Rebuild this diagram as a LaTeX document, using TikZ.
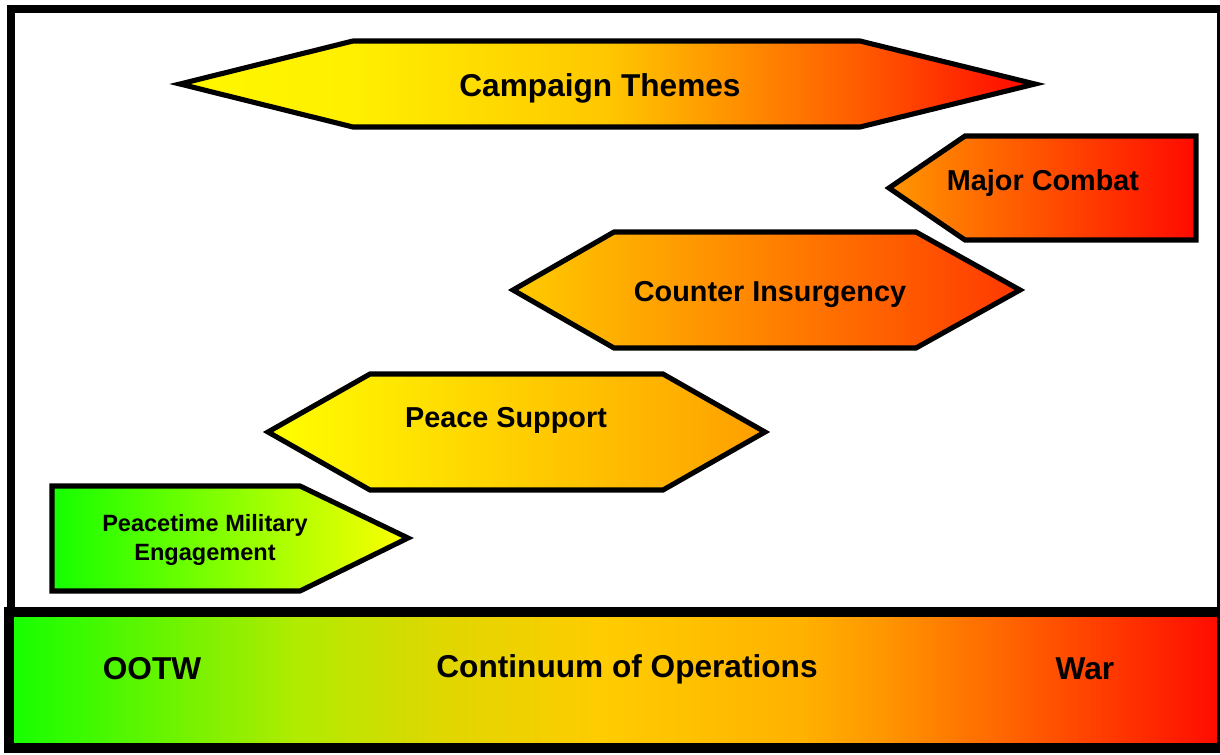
\documentclass[tikz,border=0pt]{standalone}
\usepackage{fontspec}
\setmainfont{Liberation Sans}
\usepackage{tikz}
\usetikzlibrary{positioning}

\pgfdeclarehorizontalshading{opsbar}{100bp}{rgb(0bp)=(0.08,1,0); rgb(25bp)=(0.08,1,0); rgb(37bp)=(0.7,0.92,0); rgb(43bp)=(0.88,0.84,0); rgb(49.5bp)=(1,0.8,0); rgb(57.5bp)=(1,0.7,0); rgb(61bp)=(1,0.59,0); rgb(66bp)=(1,0.4,0); rgb(75bp)=(1,0.04,0); rgb(100bp)=(1,0.04,0)}
\pgfdeclarehorizontalshading{themes}{100bp}{rgb(0bp)=(1,0.97,0); rgb(25bp)=(1,0.97,0); rgb(35bp)=(1,0.94,0); rgb(50bp)=(1,0.78,0); rgb(65bp)=(1,0.35,0); rgb(75bp)=(1,0.02,0); rgb(100bp)=(1,0.02,0)}

\begin{document}
\begin{tikzpicture}[x=0.02cm, y=-0.02cm,
	band/.style={draw=black, line width=2.9pt, line join=miter},
	lbl/.style={font=\bfseries\fontsize{16.4}{19}\selectfont},
	big/.style={font=\bfseries\fontsize{18}{21}\selectfont}]
	\useasboundingbox (0,0) rectangle (1220,754);
	\fill[white] (0,0) rectangle (1220,754);
	\draw[line width=4.3pt] (11,9) rectangle (1221,612);
	\shade[band, shading=themes] (180,84) -- (353,41) -- (860,41) -- (1035,84) -- (860,127) -- (353,127) -- cycle;
	\shade[band, left color={rgb,1:red,1;green,0.59;blue,0}, right color={rgb,1:red,1;green,0.04;blue,0}] (889,188) -- (965,136) -- (1196,136) -- (1196,240) -- (965,240) -- cycle;
	\shade[band, left color={rgb,1:red,1;green,0.8;blue,0}, right color={rgb,1:red,1;green,0.22;blue,0}] (513,290) -- (614,232) -- (916,232) -- (1020,290) -- (916,348) -- (614,348) -- cycle;
	\shade[band, left color={rgb,1:red,1;green,1;blue,0}, right color={rgb,1:red,1;green,0.62;blue,0}] (268,432) -- (370,374) -- (663,374) -- (765,432) -- (663,490) -- (370,490) -- cycle;
	\shade[band, left color={rgb,1:red,0.08;green,1;blue,0}, right color={rgb,1:red,1;green,1;blue,0}] (52,486) -- (300,486) -- (408,538) -- (300,591) -- (52,591) -- cycle;
	\shade[shading=opsbar, draw=black, line width=5.5pt] (9,612) rectangle (1222,748);
	\node[big] (campaign) at (600,88) {Campaign Themes};
	\node[lbl] (combat) at (1043,183) {Major Combat};
	\node[lbl] (coin) at (770,294) {Counter Insurgency};
	\node[lbl] (peace) at (506,420) {Peace Support};
	\node[align=center, font=\bfseries\fontsize{13.4}{16}\selectfont] (pme) at (205,540) {Peacetime Military\\Engagement};
	\node[big] (ootw) at (152,669) {OOTW};
	\node[big] (continuum) at (627,669) {Continuum of Operations};
	\node[big] (war) at (1085,669) {War};
\end{tikzpicture}
\end{document}
